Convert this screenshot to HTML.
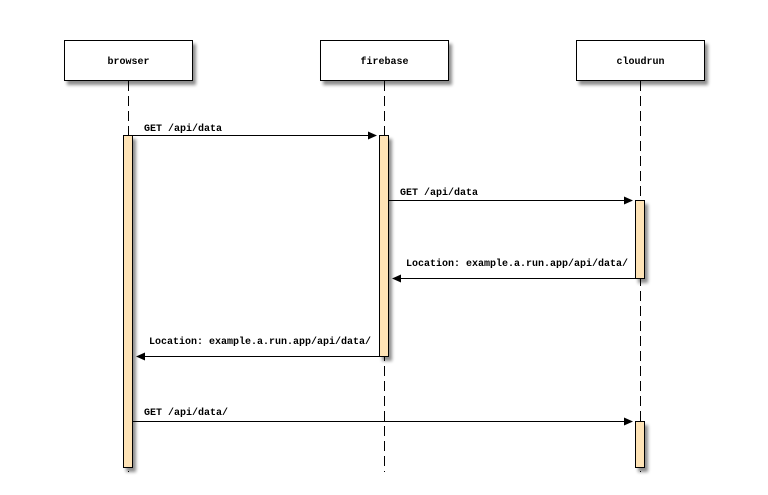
<!DOCTYPE html>
<html>
<head>
<meta charset="utf-8">
<style>
  html, body { margin: 0; padding: 0; background: #ffffff; }
  svg { display: block; }
  text { font-family: "Liberation Mono", "DejaVu Sans Mono", monospace; font-weight: bold; font-size: 10px; fill: #000; }
</style>
</head>
<body>
<svg width="768" height="495" viewBox="0 0 768 495" xmlns="http://www.w3.org/2000/svg">
  <defs>
    <filter id="sh" x="-20%" y="-20%" width="150%" height="150%">
      <feGaussianBlur in="SourceAlpha" stdDeviation="1.5"/>
      <feOffset dx="3" dy="4" result="b"/>
      <feComponentTransfer><feFuncA type="linear" slope="0.45"/></feComponentTransfer>
      <feMerge><feMergeNode/><feMergeNode in="SourceGraphic"/></feMerge>
    </filter>
  </defs>

  <!-- lifelines -->
  <g stroke="#000" stroke-width="1" stroke-dasharray="10,5" fill="none">
    <line x1="128.5" y1="81" x2="128.5" y2="472"/>
    <line x1="384.5" y1="81" x2="384.5" y2="472"/>
    <line x1="640.5" y1="81" x2="640.5" y2="472"/>
  </g>

  <!-- participant boxes -->
  <g stroke="#000" stroke-width="1" fill="#fff" filter="url(#sh)">
    <rect x="64.5" y="40.5" width="128" height="40"/>
    <rect x="320.5" y="40.5" width="128" height="40"/>
    <rect x="576.5" y="40.5" width="128" height="40"/>
  </g>
  <text x="128.5" y="64" text-anchor="middle">browser</text>
  <text x="384.5" y="64" text-anchor="middle">firebase</text>
  <text x="640.5" y="64" text-anchor="middle">cloudrun</text>

  <!-- activation bars -->
  <g stroke="#000" stroke-width="1" fill="#fee3b6" filter="url(#sh)">
    <rect x="123.5" y="135.5" width="9" height="332"/>
    <rect x="379.5" y="135.5" width="9" height="221"/>
    <rect x="635.5" y="200.5" width="9" height="78"/>
    <rect x="635.5" y="421.5" width="9" height="46"/>
  </g>

  <!-- messages -->
  <g stroke="#000" stroke-width="1" fill="none">
    <line x1="133" y1="135.5" x2="370" y2="135.5"/>
    <line x1="389" y1="200.5" x2="626" y2="200.5"/>
    <line x1="635" y1="278.5" x2="399" y2="278.5"/>
    <line x1="379" y1="356.5" x2="143" y2="356.5"/>
    <line x1="133" y1="421.5" x2="626" y2="421.5"/>
  </g>
  <g fill="#000">
    <polygon points="377,135.5 368,131.5 368,139.5"/>
    <polygon points="633,200.5 624,196.5 624,204.5"/>
    <polygon points="392,278.5 401,274.5 401,282.5"/>
    <polygon points="136,356.5 145,352.5 145,360.5"/>
    <polygon points="633,421.5 624,417.5 624,425.5"/>
  </g>

  <!-- labels -->
  <text x="144" y="131">GET /api/data</text>
  <text x="400" y="195">GET /api/data</text>
  <text x="406" y="266">Location: example.a.run.app/api/data/</text>
  <text x="149" y="344">Location: example.a.run.app/api/data/</text>
  <text x="144" y="415">GET /api/data/</text>
</svg>
</body>
</html>
